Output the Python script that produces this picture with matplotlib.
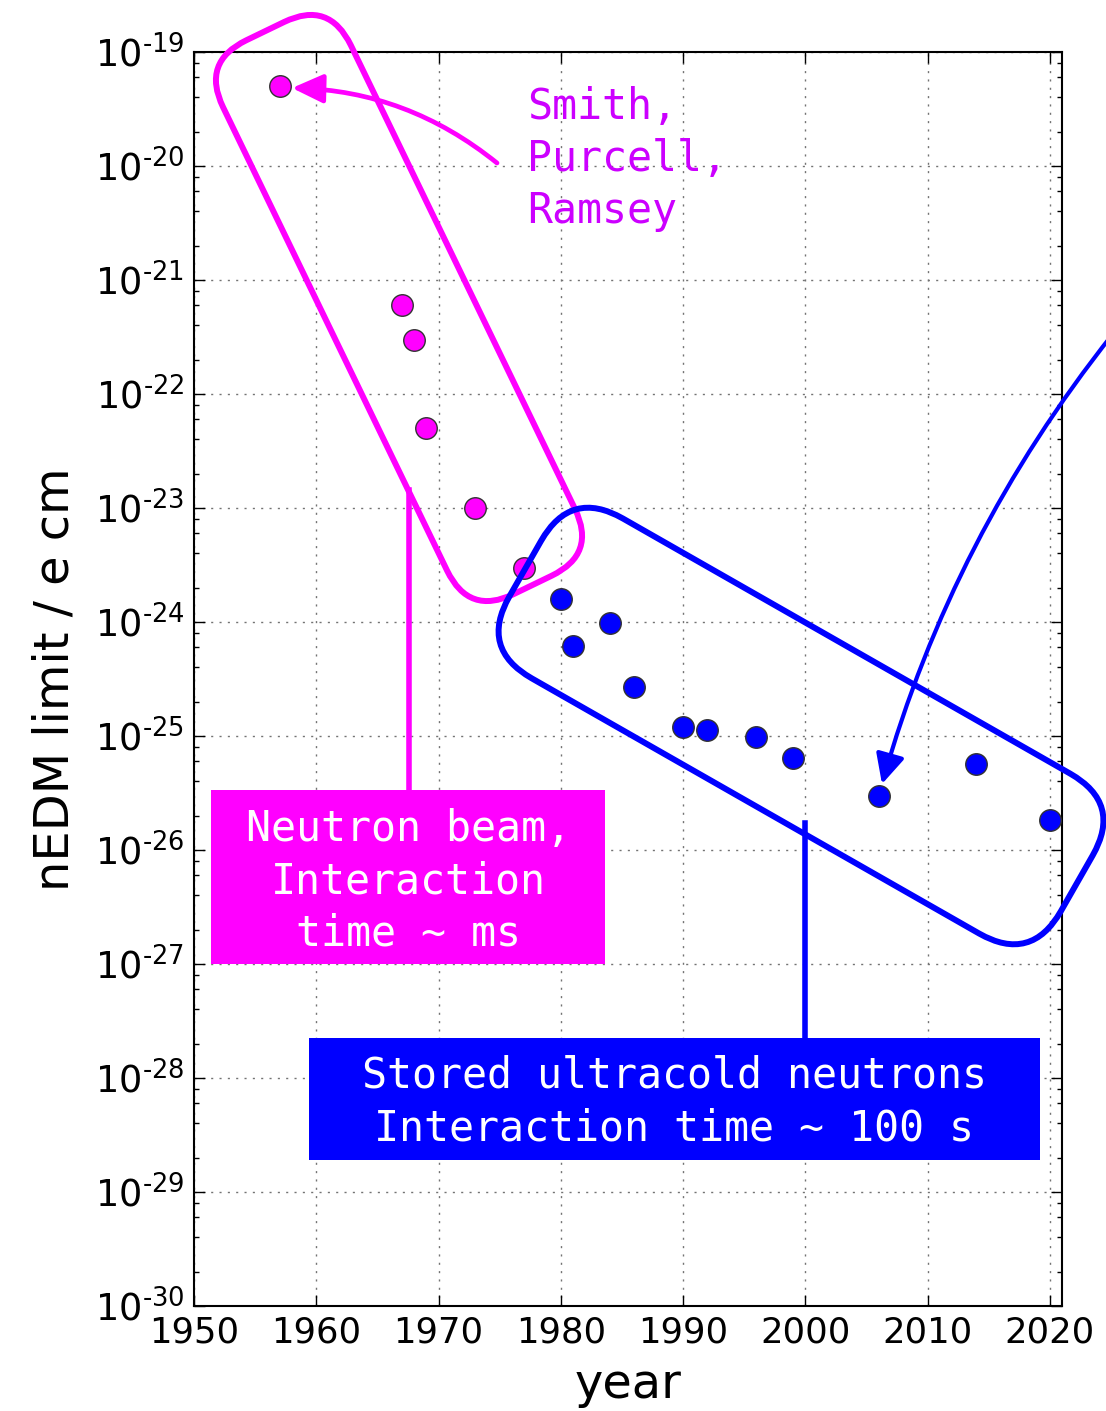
import matplotlib
matplotlib.use("Agg")
import matplotlib.pyplot as plt
import numpy as np
from matplotlib.patches import FancyBboxPatch, Rectangle, FancyArrowPatch, ArrowStyle
from matplotlib.lines import Line2D
from matplotlib.transforms import Affine2D
from matplotlib.ticker import LogLocator, FuncFormatter, FixedLocator, NullLocator

# ---- data ----
years_beam = [1957, 1967, 1968, 1969, 1973, 1977]
edm_beam = [5.0e-20, 6.0e-22, 3.0e-22, 5.0e-23, 1.0e-23, 3.0e-24]
years_ucn = [1980, 1981, 1984, 1986, 1990, 1992, 1996, 1999, 2006, 2014, 2020]
edm_ucn = [1.6e-24, 6.2e-25, 9.8e-25, 2.7e-25, 1.2e-25, 1.13e-25, 9.8e-26,
           6.4e-26, 2.95e-26, 5.7e-26, 1.83e-26]
x_ticks = [1950, 1960, 1970, 1980, 1990, 2000, 2010, 2020]
y_decades = list(range(-30, -18))

label_smith = "Smith,\nPurcell,\nRamsey"
label_beam = "Neutron beam,\nInteraction\ntime ~ ms"
label_ucn = "Stored ultracold neutrons\nInteraction time ~ 100 s"

MAG = "#ff00ff"
MAGTXT = "#cc00ff"
BLUE = "#0000ff"

W, H = 1106, 1411
fig = plt.figure(figsize=(W / 100, H / 100), dpi=100)
ax = fig.add_axes([194 / W, 1 - 1306 / H, (1062 - 194) / W, (1306 - 52) / H])

ax.semilogy(years_beam, edm_beam, 'o', color=MAG, markersize=15.5,
            markeredgecolor='#333333', markeredgewidth=1.0, zorder=3)
ax.semilogy(years_ucn, edm_ucn, 'o', color=BLUE, markersize=15.5,
            markeredgecolor='#333333', markeredgewidth=1.0, zorder=3)

ax.set_xlim(1950, 2021)
ax.set_ylim(1e-30, 1e-19)
ax.xaxis.set_major_locator(FixedLocator(x_ticks))
ax.xaxis.set_minor_locator(NullLocator())
ax.yaxis.set_major_locator(FixedLocator([10.0 ** d for d in y_decades]))
ax.yaxis.set_minor_locator(LogLocator(base=10, subs=[2, 4, 6, 8], numticks=50))


def fmt(v, pos):
    e = int(round(np.log10(v)))
    return r'$\mathdefault{10^{\text{-}%d}}$' % (-e)


ax.yaxis.set_major_formatter(FuncFormatter(fmt))
ax.yaxis.set_minor_formatter(FuncFormatter(lambda v, p: ""))

ax.tick_params(which='both', direction='in', top=True, right=True, width=1.0)
ax.tick_params(axis='x', labelsize=25.5)
ax.tick_params(axis='y', labelsize=26.5)
ax.tick_params(which='major', length=8, pad=7)
ax.tick_params(which='minor', length=3.5)
for s in ax.spines.values():
    s.set_linewidth(1.5)
ax.grid(True, which='major', color='0.45', linestyle=(0, (1.5, 4.5)), linewidth=1.0)

fig.text(55 / W, 1 - 679 / H, "nEDM limit / e cm", rotation=90, ha='center',
         va='center', fontsize=34.5)
fig.text(628 / W, 1 - 1385 / H, "year", ha='center', va='center', fontsize=34.5)

# pixel-space transform (x right, y down)
pix = Affine2D().scale(1 / W, -1 / H).translate(0, 1) + fig.transFigure


def rbox(cx, cy, L, Wd, ang, R, color):
    p = FancyBboxPatch((-L / 2, -Wd / 2), L, Wd,
                       boxstyle="round,pad=0,rounding_size=%g" % R,
                       transform=Affine2D().rotate_deg(ang).translate(cx, cy) + pix,
                       facecolor='none', edgecolor=color, linewidth=4.3,
                       clip_on=False, zorder=4)
    fig.add_artist(p)


rbox(399, 308, 615, 142, 64.2, 50, MAG)
rbox(801, 726, 635, 184, 29.7, 60, BLUE)

# connector lines
fig.add_artist(Line2D([409, 409], [490, 790], color=MAG, linewidth=4.0,
                      transform=pix, zorder=4))
fig.add_artist(Line2D([805, 805], [823, 1038], color=BLUE, linewidth=4.0,
                      transform=pix, zorder=4))

# label boxes
fig.add_artist(Rectangle((211, 790), 394, 174, facecolor=MAG, edgecolor='none',
                         transform=pix, zorder=5))
fig.add_artist(Rectangle((309, 1038), 731, 122, facecolor=BLUE, edgecolor='none',
                         transform=pix, zorder=5))
fig.text(408 / W, 1 - 881 / H, label_beam, ha='center', va='center', color='white',
         family='DejaVu Sans Mono', fontsize=30, linespacing=1.31, zorder=6)
fig.text(674 / W, 1 - 1102 / H, label_ucn, ha='center', va='center', color='white',
         family='DejaVu Sans Mono', fontsize=30, linespacing=1.31, zorder=6)
fig.text(527 / W, 1 - 86 / H, label_smith, ha='left', va='top', color=MAGTXT,
         family='DejaVu Sans Mono', fontsize=30, linespacing=1.31, zorder=6)

# arrows
a1 = FancyArrowPatch((497, 163), (292, 88), transform=pix,
                     arrowstyle=ArrowStyle("-|>", head_length=19, head_width=8.8),
                     mutation_scale=1, connectionstyle="arc3,rad=0.17",
                     color=MAG, linewidth=3.4, shrinkA=0, shrinkB=0,
                     clip_on=False, zorder=4)
fig.add_artist(a1)
a2 = FancyArrowPatch((1112, 335), (882, 784), transform=pix,
                     arrowstyle=ArrowStyle("-|>", head_length=18, head_width=8.8),
                     mutation_scale=1, connectionstyle="arc3,rad=0.1",
                     color=BLUE, linewidth=3.0, shrinkA=0, shrinkB=0,
                     clip_on=False, zorder=4)
fig.add_artist(a2)

fig.savefig("out.png", dpi=100)
